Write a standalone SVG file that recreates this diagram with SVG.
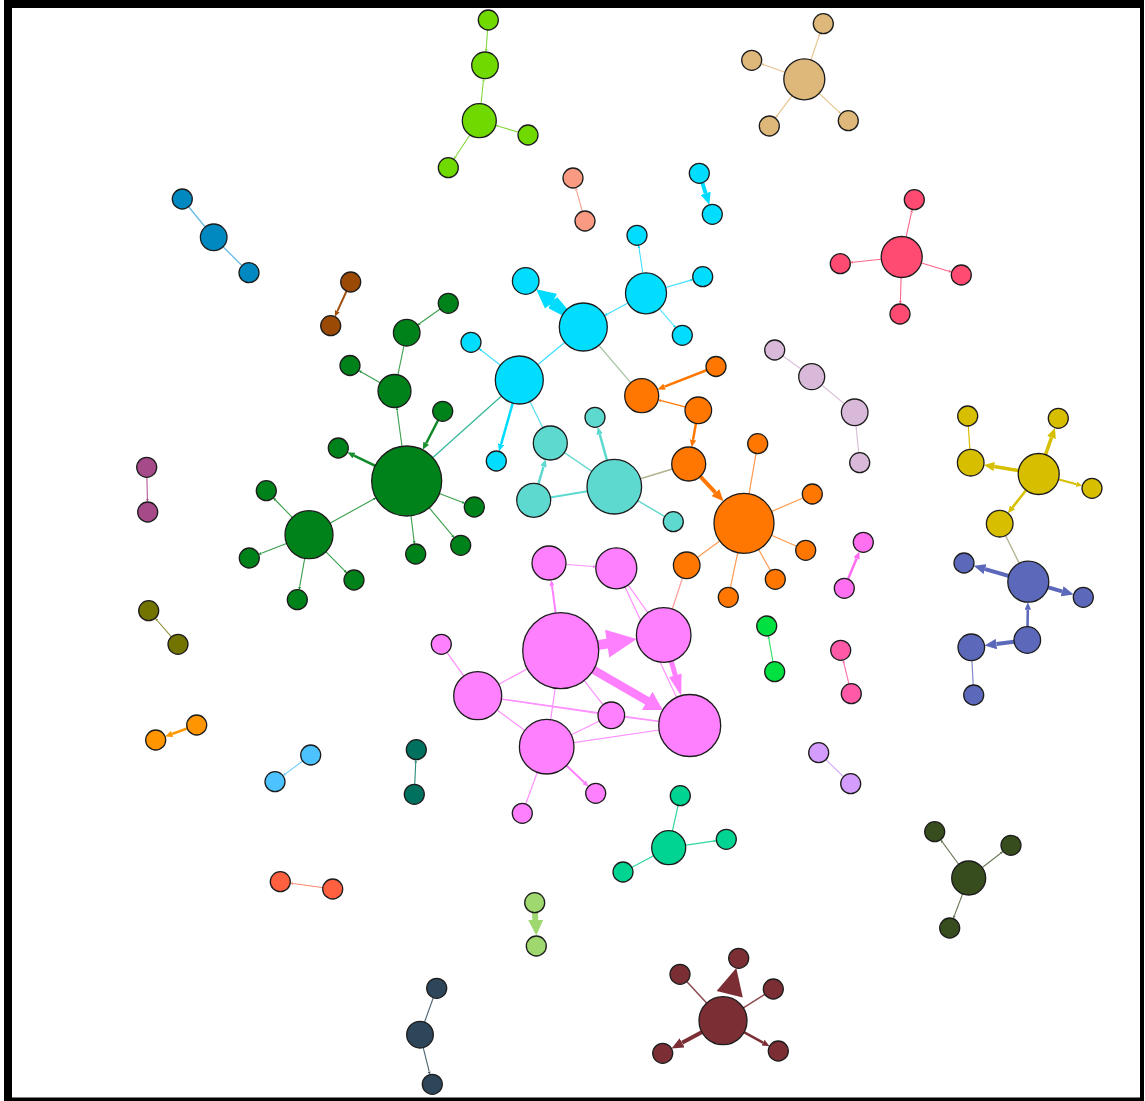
<svg xmlns="http://www.w3.org/2000/svg" width="1145" height="1101" viewBox="0 0 1145 1101">
<style>
#nodes circle{stroke:#1c1c1c;stroke-width:1.3}
#connectors line,#connectors polyline{fill:none}
</style>
<defs>
<marker id="mBrown" viewBox="0 0 10 10" refX="0" refY="5" markerWidth="3" markerHeight="2.6" orient="auto" preserveAspectRatio="none"><path d="M0,0L10,5L0,10z" fill="#a34f0c"/></marker>
<marker id="mLGreen" viewBox="0 0 10 10" refX="0" refY="5" markerWidth="3" markerHeight="2.6" orient="auto" preserveAspectRatio="none"><path d="M0,0L10,5L0,10z" fill="#84d83a"/></marker>
<marker id="mSalmon" viewBox="0 0 10 10" refX="0" refY="5" markerWidth="3" markerHeight="2.6" orient="auto" preserveAspectRatio="none"><path d="M0,0L10,5L0,10z" fill="#f7a595"/></marker>
<marker id="mCyan" viewBox="0 0 10 10" refX="0" refY="5" markerWidth="3" markerHeight="2.6" orient="auto" preserveAspectRatio="none"><path d="M0,0L10,5L0,10z" fill="#00dcff"/></marker>
<marker id="mTeal" viewBox="0 0 10 10" refX="0" refY="5" markerWidth="3" markerHeight="2.6" orient="auto" preserveAspectRatio="none"><path d="M0,0L10,5L0,10z" fill="#5ed9cf"/></marker>
<marker id="mGreen" viewBox="0 0 10 10" refX="0" refY="5" markerWidth="3" markerHeight="2.6" orient="auto" preserveAspectRatio="none"><path d="M0,0L10,5L0,10z" fill="#1a8f30"/></marker>
<marker id="mMag" viewBox="0 0 10 10" refX="0" refY="5" markerWidth="3" markerHeight="2.6" orient="auto" preserveAspectRatio="none"><path d="M0,0L10,5L0,10z" fill="#b45a9a"/></marker>
<marker id="mOlive" viewBox="0 0 10 10" refX="0" refY="5" markerWidth="3" markerHeight="2.6" orient="auto" preserveAspectRatio="none"><path d="M0,0L10,5L0,10z" fill="#8a8a30"/></marker>
<marker id="mOrJ" viewBox="0 0 10 10" refX="0" refY="5" markerWidth="3" markerHeight="2.6" orient="auto" preserveAspectRatio="none"><path d="M0,0L10,5L0,10z" fill="#ff9a00"/></marker>
<marker id="mLBlue" viewBox="0 0 10 10" refX="0" refY="5" markerWidth="3" markerHeight="2.6" orient="auto" preserveAspectRatio="none"><path d="M0,0L10,5L0,10z" fill="#6ccfff"/></marker>
<marker id="mRedO" viewBox="0 0 10 10" refX="0" refY="5" markerWidth="3" markerHeight="2.6" orient="auto" preserveAspectRatio="none"><path d="M0,0L10,5L0,10z" fill="#ff8870"/></marker>
<marker id="mDTeal" viewBox="0 0 10 10" refX="0" refY="5" markerWidth="3" markerHeight="2.6" orient="auto" preserveAspectRatio="none"><path d="M0,0L10,5L0,10z" fill="#2a8a7a"/></marker>
<marker id="mSlate" viewBox="0 0 10 10" refX="0" refY="5" markerWidth="3" markerHeight="2.6" orient="auto" preserveAspectRatio="none"><path d="M0,0L10,5L0,10z" fill="#4a6070"/></marker>
<marker id="mSea" viewBox="0 0 10 10" refX="0" refY="5" markerWidth="3" markerHeight="2.6" orient="auto" preserveAspectRatio="none"><path d="M0,0L10,5L0,10z" fill="#2ed89c"/></marker>
<marker id="mMaroon" viewBox="0 0 10 10" refX="0" refY="5" markerWidth="3" markerHeight="2.6" orient="auto" preserveAspectRatio="none"><path d="M0,0L10,5L0,10z" fill="#7b2f35"/></marker>
<marker id="mDOlive" viewBox="0 0 10 10" refX="0" refY="5" markerWidth="3" markerHeight="2.6" orient="auto" preserveAspectRatio="none"><path d="M0,0L10,5L0,10z" fill="#6a7a58"/></marker>
<marker id="mTan" viewBox="0 0 10 10" refX="0" refY="5" markerWidth="3" markerHeight="2.6" orient="auto" preserveAspectRatio="none"><path d="M0,0L10,5L0,10z" fill="#e6c28c"/></marker>
<marker id="mRed" viewBox="0 0 10 10" refX="0" refY="5" markerWidth="3" markerHeight="2.6" orient="auto" preserveAspectRatio="none"><path d="M0,0L10,5L0,10z" fill="#ff6488"/></marker>
<marker id="mOrange" viewBox="0 0 10 10" refX="0" refY="5" markerWidth="3" markerHeight="2.6" orient="auto" preserveAspectRatio="none"><path d="M0,0L10,5L0,10z" fill="#ff7700"/></marker>
<marker id="mPink" viewBox="0 0 10 10" refX="0" refY="5" markerWidth="3" markerHeight="2.6" orient="auto" preserveAspectRatio="none"><path d="M0,0L10,5L0,10z" fill="#ff80ff"/></marker>
<marker id="mPink2" viewBox="0 0 10 10" refX="0" refY="5" markerWidth="3" markerHeight="2.6" orient="auto" preserveAspectRatio="none"><path d="M0,0L10,5L0,10z" fill="#ff6ef0"/></marker>
<marker id="mHot" viewBox="0 0 10 10" refX="0" refY="5" markerWidth="3" markerHeight="2.6" orient="auto" preserveAspectRatio="none"><path d="M0,0L10,5L0,10z" fill="#ff6cb0"/></marker>
<marker id="mBGreen" viewBox="0 0 10 10" refX="0" refY="5" markerWidth="3" markerHeight="2.6" orient="auto" preserveAspectRatio="none"><path d="M0,0L10,5L0,10z" fill="#2ee066"/></marker>
<marker id="mYellow" viewBox="0 0 10 10" refX="0" refY="5" markerWidth="3" markerHeight="2.6" orient="auto" preserveAspectRatio="none"><path d="M0,0L10,5L0,10z" fill="#d6bf00"/></marker>
<marker id="mBlue" viewBox="0 0 10 10" refX="0" refY="5" markerWidth="3" markerHeight="2.6" orient="auto" preserveAspectRatio="none"><path d="M0,0L10,5L0,10z" fill="#5c68ba"/></marker>
</defs>
<rect x="0" y="0" width="1145" height="1101" fill="#fff"/>
<path d="M4,0H1144V1101H4Z M12,8V1097.5H1140V8Z" fill="#000" fill-rule="evenodd"/>
<g id="connectors">
 <g stroke="#5ab6e0" stroke-width="1.2">
  <line x1="182.3" y1="199" x2="213.7" y2="237.3"/>
  <line x1="213.7" y1="237.3" x2="249" y2="272.7"/>
 </g>
 <line x1="350.7" y1="282" x2="337.4" y2="311.2" stroke="#a34f0c" stroke-width="2" marker-end="url(#mBrown)"/>
 <g stroke="#84d83a" stroke-width="1.1" marker-end="url(#mLGreen)">
  <line x1="488.3" y1="20" x2="486.2" y2="49"/>
  <line x1="479.3" y1="120.7" x2="483.3" y2="81.5"/>
  <line x1="528" y1="135" x2="498.5" y2="126.3"/>
  <line x1="479.3" y1="120.7" x2="455.5" y2="156.8"/>
 </g>
 <line x1="585" y1="221" x2="576.5" y2="190.5" stroke="#f7a595" stroke-width="1.1" marker-end="url(#mSalmon)"/>
 <line x1="699.3" y1="173.3" x2="705.7" y2="193.3" stroke="#00dcff" stroke-width="4" marker-end="url(#mCyan)"/>
 <g stroke="#3fdfff" stroke-width="1.1" marker-end="url(#mCyan)">
  <line x1="646" y1="293.3" x2="639" y2="248.1"/>
  <line x1="646" y1="293.3" x2="690.2" y2="280.4"/>
  <line x1="646" y1="293.3" x2="673.8" y2="325.5"/>
  <line x1="646" y1="293.3" x2="607.1" y2="314.2"/>
  <line x1="519.3" y1="380" x2="481.2" y2="350.3"/>
 </g>
 <line x1="583.3" y1="327" x2="519.3" y2="380" stroke="#3fdfff" stroke-width="1.3"/>
 <line x1="519.3" y1="380" x2="501.1" y2="444.2" stroke="#00dcff" stroke-width="2.5" marker-end="url(#mCyan)"/>
 <line x1="583.3" y1="327" x2="641.7" y2="395.7" stroke="#a9c6a6" stroke-width="1.3"/>
 <line x1="519.3" y1="380" x2="406.7" y2="481" stroke="#36b89a" stroke-width="1.3"/>
 <line x1="519.3" y1="380" x2="550.3" y2="443" stroke="#5fe0ee" stroke-width="1.3"/>
 <polygon points="536.1,289.3 556.9,293.7 554.0,299.8 557.3,297.2 569.5,311.6 565.1,317.0 548.5,308.2 550.2,304.4 545.0,308.6" fill="#00dcff"/>
 <g stroke="#5ed9cf">
  <line x1="614.3" y1="486.7" x2="599.7" y2="434.2" stroke-width="2.5" marker-end="url(#mTeal)"/>
  <line x1="533.7" y1="500.3" x2="543.5" y2="466.5" stroke-width="2.5" marker-end="url(#mTeal)"/>
  <line x1="614.3" y1="486.7" x2="533.7" y2="500.3" stroke-width="2"/>
  <line x1="614.3" y1="486.7" x2="550.3" y2="443" stroke-width="1.4"/>
  <line x1="614.3" y1="486.7" x2="673.3" y2="521.7" stroke-width="1.4"/>
 </g>
 <line x1="614.3" y1="486.7" x2="688.7" y2="464" stroke="#b3b38e" stroke-width="1.5"/>
 <g stroke="#3a9e4a" stroke-width="1.1" marker-end="url(#mGreen)">
  <line x1="448.3" y1="303.3" x2="420" y2="323.3"/>
  <line x1="394.5" y1="391" x2="361.3" y2="372"/>
  <line x1="406.7" y1="481" x2="397.1" y2="410.3"/>
  <line x1="406.7" y1="481" x2="462.2" y2="502.3"/>
  <line x1="406.7" y1="481" x2="452.3" y2="535.4"/>
  <line x1="406.7" y1="481" x2="414.1" y2="541.1"/>
  <line x1="309" y1="534.7" x2="373.4" y2="499.3"/>
  <line x1="309" y1="534.7" x2="275.4" y2="500"/>
  <line x1="309" y1="534.7" x2="261.4" y2="553.3"/>
  <line x1="309" y1="534.7" x2="299.6" y2="586.9"/>
  <line x1="309" y1="534.7" x2="344.8" y2="570.8"/>
 </g>
 <line x1="406.7" y1="332.7" x2="394.5" y2="391" stroke="#3a9e4a" stroke-width="1.1"/>
 <g stroke="#10892a" stroke-width="2.5" marker-end="url(#mGreen)">
  <line x1="442.7" y1="411.3" x2="426.2" y2="443.2"/>
  <line x1="406.7" y1="481" x2="354.1" y2="455.6"/>
 </g>
 <line x1="146.7" y1="467.3" x2="147.4" y2="499" stroke="#b45a9a" stroke-width="1.1" marker-end="url(#mMag)"/>
 <line x1="178" y1="644.3" x2="157.2" y2="620.5" stroke="#8a8a30" stroke-width="1.1" marker-end="url(#mOlive)"/>
 <line x1="196.7" y1="725" x2="172.1" y2="734" stroke="#ff9a00" stroke-width="2.5" marker-end="url(#mOrJ)"/>
 <line x1="310.7" y1="755" x2="285.4" y2="773.9" stroke="#6ccfff" stroke-width="1.1" marker-end="url(#mLBlue)"/>
 <line x1="332.7" y1="889" x2="293.2" y2="883.5" stroke="#ff8870" stroke-width="1.1" marker-end="url(#mRedO)"/>
 <line x1="414.3" y1="794.3" x2="415.7" y2="762.7" stroke="#2a8a7a" stroke-width="1.1" marker-end="url(#mDTeal)"/>
 <g stroke="#4a6070" stroke-width="1.1">
  <line x1="436.7" y1="988.3" x2="420" y2="1034.7"/>
  <line x1="420" y1="1034.7" x2="429.2" y2="1071.7" marker-end="url(#mSlate)"/>
 </g>
 <polygon points="532.0,911 538.0,911 538.2,920 543.2,920 536.3,935.5 528.2,920 532.3,920" fill="#9fd870"/>
 <g stroke="#2ed89c" stroke-width="1.2">
  <line x1="668.7" y1="847.7" x2="680.3" y2="795.7"/>
  <line x1="668.7" y1="847.7" x2="713.4" y2="841.2" marker-end="url(#mSea)"/>
  <line x1="668.7" y1="847.7" x2="623" y2="872"/>
 </g>
 <g stroke="#8c4a4f" stroke-width="1.5">
  <line x1="723" y1="1020.7" x2="680" y2="974.3"/>
  <line x1="723" y1="1020.7" x2="773.3" y2="989"/>
 </g>
 <line x1="723" y1="1020.7" x2="682.1" y2="1042.8" stroke="#7b2f35" stroke-width="4" marker-end="url(#mMaroon)"/>
 <line x1="723" y1="1020.7" x2="763" y2="1042.6" stroke="#7b2f35" stroke-width="2.5" marker-end="url(#mMaroon)"/>
 <polygon points="736.3,968 742.8,997.5 716.6,990.9" fill="#7b2f35"/>
 <g stroke="#6a7a58" stroke-width="1.1" marker-end="url(#mDOlive)">
  <line x1="968.7" y1="878" x2="942.4" y2="842.2"/>
  <line x1="968.7" y1="878" x2="1000.7" y2="853.2"/>
  <line x1="968.7" y1="878" x2="954.3" y2="915.8"/>
 </g>
 <line x1="818.7" y1="752.7" x2="850.7" y2="783.7" stroke="#d8b0ff" stroke-width="1.2"/>
 <g stroke="#e6c28c" stroke-width="1.1" marker-end="url(#mTan)">
  <line x1="804.3" y1="79.3" x2="819.1" y2="36"/>
  <line x1="804.3" y1="79.3" x2="763.9" y2="64.7"/>
  <line x1="804.3" y1="79.3" x2="777.1" y2="115.6"/>
  <line x1="804.3" y1="79.3" x2="838.8" y2="111.8"/>
 </g>
 <g stroke="#ff6488" stroke-width="1.1" marker-end="url(#mRed)">
  <line x1="901.7" y1="257" x2="911.5" y2="212.4"/>
  <line x1="901.7" y1="257" x2="853.2" y2="262.3"/>
  <line x1="901.7" y1="257" x2="948.9" y2="271.2"/>
  <line x1="901.7" y1="257" x2="900.4" y2="301"/>
 </g>
 <polyline points="774.7,350 811.7,376.7 854.7,412.3 859.7,462.7" stroke="#dcc4dc" stroke-width="1.3"/>
 <g stroke="#ff7700" marker-end="url(#mOrange)">
  <line x1="716" y1="366.5" x2="664.5" y2="386.7" stroke-width="2.5"/>
  <line x1="698.3" y1="410.3" x2="661.1" y2="400.7" stroke-width="1.2"/>
  <line x1="698.3" y1="410.3" x2="693" y2="439.9" stroke-width="2.5"/>
  <line x1="688.7" y1="464" x2="715.4" y2="492.6" stroke-width="4"/>
 </g>
 <g stroke="#ff9a50" stroke-width="1.2">
  <line x1="744" y1="523.3" x2="757.7" y2="443.7"/>
  <line x1="744" y1="523.3" x2="812.3" y2="494"/>
  <line x1="744" y1="523.3" x2="805.7" y2="550.3"/>
  <line x1="744" y1="523.3" x2="775.3" y2="579.3"/>
  <line x1="744" y1="523.3" x2="728.3" y2="597.3"/>
  <line x1="744" y1="523.3" x2="686.7" y2="565.3"/>
 </g>
 <line x1="686.7" y1="565.3" x2="663.7" y2="635" stroke="#ff9a9a" stroke-width="1.2"/>
 <g stroke="#ff90ff" stroke-width="1.2">
  <line x1="616.3" y1="568.3" x2="663.7" y2="635"/>
  <line x1="616.3" y1="568.3" x2="689.7" y2="725.5"/>
  <line x1="560.7" y1="650.7" x2="477.7" y2="695.7"/>
  <line x1="560.7" y1="650.7" x2="611.3" y2="715.3"/>
  <line x1="560.7" y1="650.7" x2="546.7" y2="746.7"/>
  <line x1="477.7" y1="695.7" x2="441.3" y2="644.3"/>
  <line x1="477.7" y1="695.7" x2="689.7" y2="725.5"/>
  <line x1="477.7" y1="695.7" x2="611.3" y2="715.3"/>
  <line x1="477.7" y1="695.7" x2="546.7" y2="746.7"/>
  <line x1="546.7" y1="746.7" x2="611.3" y2="715.3"/>
  <line x1="546.7" y1="746.7" x2="689.7" y2="725.5"/>
  <line x1="611.3" y1="715.3" x2="689.7" y2="725.5"/>
  <line x1="546.7" y1="746.7" x2="522.3" y2="813.3"/>
  <line x1="549" y1="563" x2="592.9" y2="566.5" marker-end="url(#mPink)"/>
 </g>
 <g stroke="#ff80ff" stroke-width="2" marker-end="url(#mPink)">
  <line x1="560.7" y1="650.7" x2="552" y2="585.8"/>
  <line x1="546.7" y1="746.7" x2="584.1" y2="782.3"/>
 </g>
 <g fill="#ff80ff">
  <polygon points="589.61,641.24 606.41,638.68 605.05,629.78 636.72,639.11 609.27,657.46 607.91,648.56 591.11,651.12"/>
  <polygon points="593.09,664.64 649.31,697.27 652.47,691.82 662.77,709.94 641.93,709.98 645.09,704.53 588.87,671.9"/>
  <polygon points="673.0,658.34 677.69,674.67 681.54,673.57 681.23,696.02 669.04,677.15 672.89,676.05 668.2,659.72"/>
 </g>
 <line x1="844.3" y1="588.3" x2="856.6" y2="558.5" stroke="#ff6ef0" stroke-width="2.5" marker-end="url(#mPink2)"/>
 <line x1="851.3" y1="693.7" x2="843.8" y2="662.9" stroke="#ff6cb0" stroke-width="1.1" marker-end="url(#mHot)"/>
 <line x1="774.7" y1="671.7" x2="768.9" y2="638.8" stroke="#2ee066" stroke-width="1.1" marker-end="url(#mBGreen)"/>
 <line x1="967.7" y1="416" x2="970.7" y2="462.7" stroke="#d6bf00" stroke-width="1.2"/>
 <g stroke="#d6bf00" marker-end="url(#mYellow)">
  <line x1="1038.7" y1="474" x2="994.2" y2="466.6" stroke-width="3.5"/>
  <line x1="1038.7" y1="474" x2="1051.5" y2="437.6" stroke-width="3.5"/>
  <line x1="1038.7" y1="474" x2="1076.5" y2="484.2" stroke-width="2"/>
  <line x1="1038.7" y1="474" x2="1012.5" y2="507.4" stroke-width="2.5"/>
 </g>
 <line x1="999.7" y1="523.7" x2="1028.3" y2="581.7" stroke="#b2b08e" stroke-width="1.3"/>
 <g stroke="#5c68ba" marker-end="url(#mBlue)">
  <line x1="1028.3" y1="581.7" x2="985.1" y2="569.1" stroke-width="4"/>
  <line x1="1028.3" y1="581.7" x2="1062.1" y2="591.3" stroke-width="4"/>
  <line x1="1027.3" y1="640" x2="1027.8" y2="609.7" stroke-width="2.5"/>
  <line x1="1027.3" y1="640" x2="996.4" y2="644" stroke-width="4"/>
 </g>
 <line x1="971.3" y1="647.3" x2="973.7" y2="695" stroke="#7f89c8" stroke-width="1.2"/>
</g>
<g id="nodes">
 <g id="a1" fill="#0088c0"><circle cx="182.3" cy="199" r="10"/></g>
 <g id="a2" fill="#0088c0"><circle cx="213.7" cy="237.3" r="13.3"/></g>
 <g id="a3" fill="#0088c0"><circle cx="249" cy="272.7" r="10"/></g>
 <g id="b1" fill="#9a4a05"><circle cx="350.7" cy="282" r="10"/></g>
 <g id="b2" fill="#9a4a05"><circle cx="330.7" cy="325.7" r="10"/></g>
 <g id="c1" fill="#6fd900"><circle cx="488.3" cy="20" r="10"/></g>
 <g id="c2" fill="#6fd900"><circle cx="485" cy="65.3" r="13.3"/></g>
 <g id="c3" fill="#6fd900"><circle cx="479.3" cy="120.7" r="17"/></g>
 <g id="c4" fill="#6fd900"><circle cx="528" cy="135" r="10"/></g>
 <g id="c5" fill="#6fd900"><circle cx="448.3" cy="167.7" r="10"/></g>
 <g id="d1" fill="#f99a82"><circle cx="573" cy="178" r="10"/></g>
 <g id="d2" fill="#f99a82"><circle cx="585" cy="221" r="10"/></g>
 <g id="e1" fill="#00ddff"><circle cx="699.3" cy="173.3" r="10"/></g>
 <g id="e2" fill="#00ddff"><circle cx="712.3" cy="214.3" r="10"/></g>
 <g id="f1" fill="#00ddff"><circle cx="583.3" cy="327" r="24"/></g>
 <g id="f2" fill="#00ddff"><circle cx="646" cy="293.3" r="20.5"/></g>
 <g id="f3" fill="#00ddff"><circle cx="525.7" cy="281" r="13.3"/></g>
 <g id="f4" fill="#00ddff"><circle cx="637" cy="235.3" r="10"/></g>
 <g id="f5" fill="#00ddff"><circle cx="702.7" cy="276.7" r="10"/></g>
 <g id="f6" fill="#00ddff"><circle cx="682.3" cy="335.3" r="10"/></g>
 <g id="f7" fill="#00ddff"><circle cx="471" cy="342.3" r="10"/></g>
 <g id="f8" fill="#00ddff"><circle cx="519.3" cy="380" r="24"/></g>
 <g id="f9" fill="#00ddff"><circle cx="496.3" cy="461" r="10"/></g>
 <g id="t1" fill="#5ed9cf"><circle cx="614.3" cy="486.7" r="27.3"/></g>
 <g id="t2" fill="#5ed9cf"><circle cx="550.3" cy="443" r="17"/></g>
 <g id="t3" fill="#5ed9cf"><circle cx="533.7" cy="500.3" r="17"/></g>
 <g id="t4" fill="#5ed9cf"><circle cx="595" cy="417.3" r="10"/></g>
 <g id="t5" fill="#5ed9cf"><circle cx="673.3" cy="521.7" r="10"/></g>
 <g id="g1" fill="#00821a"><circle cx="406.7" cy="481" r="35"/></g>
 <g id="g2" fill="#00821a"><circle cx="309" cy="534.7" r="24"/></g>
 <g id="g3" fill="#00821a"><circle cx="394.5" cy="391" r="16.5"/></g>
 <g id="g4" fill="#00821a"><circle cx="406.7" cy="332.7" r="13.3"/></g>
 <g id="g5" fill="#00821a"><circle cx="448.3" cy="303.3" r="10"/></g>
 <g id="g6" fill="#00821a"><circle cx="350" cy="365.5" r="10"/></g>
 <g id="g7" fill="#00821a"><circle cx="442.7" cy="411.3" r="10"/></g>
 <g id="g8" fill="#00821a"><circle cx="338.3" cy="448" r="10"/></g>
 <g id="g9" fill="#00821a"><circle cx="474.3" cy="507" r="10"/></g>
 <g id="g10" fill="#00821a"><circle cx="460.7" cy="545.3" r="10"/></g>
 <g id="g11" fill="#00821a"><circle cx="415.7" cy="554" r="10"/></g>
 <g id="g12" fill="#00821a"><circle cx="266.3" cy="490.7" r="10"/></g>
 <g id="g13" fill="#00821a"><circle cx="249.3" cy="558" r="10"/></g>
 <g id="g14" fill="#00821a"><circle cx="297.3" cy="599.7" r="10"/></g>
 <g id="g15" fill="#00821a"><circle cx="354" cy="580" r="10"/></g>
 <g id="h1" fill="#a64a8a"><circle cx="146.7" cy="467.3" r="10"/></g>
 <g id="h2" fill="#a64a8a"><circle cx="147.7" cy="512" r="10"/></g>
 <g id="i1" fill="#737300"><circle cx="148.7" cy="610.7" r="10"/></g>
 <g id="i2" fill="#737300"><circle cx="178" cy="644.3" r="10"/></g>
 <g id="j1" fill="#ff9500"><circle cx="196.7" cy="725" r="10"/></g>
 <g id="j2" fill="#ff9500"><circle cx="155.7" cy="740" r="10"/></g>
 <g id="k1" fill="#4cc3ff"><circle cx="310.7" cy="755" r="10"/></g>
 <g id="k2" fill="#4cc3ff"><circle cx="275" cy="781.7" r="10"/></g>
 <g id="l1" fill="#ff6040"><circle cx="280.3" cy="881.7" r="10"/></g>
 <g id="l2" fill="#ff6040"><circle cx="332.7" cy="889" r="10"/></g>
 <g id="m1" fill="#00705f"><circle cx="416.3" cy="749.7" r="10"/></g>
 <g id="m2" fill="#00705f"><circle cx="414.3" cy="794.3" r="10"/></g>
 <g id="n1" fill="#2d4659"><circle cx="436.7" cy="988.3" r="10"/></g>
 <g id="n2" fill="#2d4659"><circle cx="420" cy="1034.7" r="13.3"/></g>
 <g id="n3" fill="#2d4659"><circle cx="432.3" cy="1084.3" r="10"/></g>
 <g id="q1" fill="#9ed86e"><circle cx="534.7" cy="902.7" r="10"/></g>
 <g id="q2" fill="#9ed86e"><circle cx="536.3" cy="946" r="10"/></g>
 <g id="r1" fill="#00d493"><circle cx="668.7" cy="847.7" r="17"/></g>
 <g id="r2" fill="#00d493"><circle cx="680.3" cy="795.7" r="10"/></g>
 <g id="r3" fill="#00d493"><circle cx="726.3" cy="839.3" r="10"/></g>
 <g id="r4" fill="#00d493"><circle cx="623" cy="872" r="10"/></g>
 <g id="s1" fill="#7b2f35"><circle cx="723" cy="1020.7" r="24"/></g>
 <g id="s2" fill="#7b2f35"><circle cx="738.7" cy="958.3" r="10"/></g>
 <g id="s3" fill="#7b2f35"><circle cx="680" cy="974.3" r="10"/></g>
 <g id="s4" fill="#7b2f35"><circle cx="662.7" cy="1053.3" r="10"/></g>
 <g id="s5" fill="#7b2f35"><circle cx="773.3" cy="989" r="10"/></g>
 <g id="s6" fill="#7b2f35"><circle cx="778.3" cy="1051" r="10"/></g>
 <g id="u1" fill="#384d1d"><circle cx="968.7" cy="878" r="17"/></g>
 <g id="u2" fill="#384d1d"><circle cx="934.7" cy="831.7" r="10"/></g>
 <g id="u3" fill="#384d1d"><circle cx="1011" cy="845.3" r="10"/></g>
 <g id="u4" fill="#384d1d"><circle cx="949.7" cy="928" r="10"/></g>
 <g id="v1" fill="#d49cfc"><circle cx="818.7" cy="752.7" r="10"/></g>
 <g id="v2" fill="#d49cfc"><circle cx="850.7" cy="783.7" r="10"/></g>
 <g id="w1" fill="#ddb87a"><circle cx="804.3" cy="79.3" r="20.5"/></g>
 <g id="w2" fill="#ddb87a"><circle cx="823.3" cy="23.7" r="10"/></g>
 <g id="w3" fill="#ddb87a"><circle cx="751.7" cy="60.3" r="10"/></g>
 <g id="w4" fill="#ddb87a"><circle cx="769.3" cy="126" r="10"/></g>
 <g id="w5" fill="#ddb87a"><circle cx="848.3" cy="120.7" r="10"/></g>
 <g id="x1" fill="#ff4a72"><circle cx="901.7" cy="257" r="20.5"/></g>
 <g id="x2" fill="#ff4a72"><circle cx="914.3" cy="199.7" r="10"/></g>
 <g id="x3" fill="#ff4a72"><circle cx="840.3" cy="263.7" r="10"/></g>
 <g id="x4" fill="#ff4a72"><circle cx="961.3" cy="275" r="10"/></g>
 <g id="x5" fill="#ff4a72"><circle cx="900" cy="314" r="10"/></g>
 <g id="y1" fill="#d9b9d9"><circle cx="774.7" cy="350" r="10"/></g>
 <g id="y2" fill="#d9b9d9"><circle cx="811.7" cy="376.7" r="13"/></g>
 <g id="y3" fill="#d9b9d9"><circle cx="854.7" cy="412.3" r="13.3"/></g>
 <g id="y4" fill="#d9b9d9"><circle cx="859.7" cy="462.7" r="10"/></g>
 <g id="o1" fill="#ff7700"><circle cx="641.7" cy="395.7" r="17"/></g>
 <g id="o2" fill="#ff7700"><circle cx="716" cy="366.5" r="10"/></g>
 <g id="o3" fill="#ff7700"><circle cx="698.3" cy="410.3" r="13.3"/></g>
 <g id="o4" fill="#ff7700"><circle cx="688.7" cy="464" r="17"/></g>
 <g id="o5" fill="#ff7700"><circle cx="744" cy="523.3" r="30"/></g>
 <g id="o6" fill="#ff7700"><circle cx="757.7" cy="443.7" r="10"/></g>
 <g id="o7" fill="#ff7700"><circle cx="812.3" cy="494" r="10"/></g>
 <g id="o8" fill="#ff7700"><circle cx="805.7" cy="550.3" r="10"/></g>
 <g id="o9" fill="#ff7700"><circle cx="775.3" cy="579.3" r="10"/></g>
 <g id="o10" fill="#ff7700"><circle cx="728.3" cy="597.3" r="10"/></g>
 <g id="o11" fill="#ff7700"><circle cx="686.7" cy="565.3" r="13.3"/></g>
 <g id="p1" fill="#ff80ff"><circle cx="560.7" cy="650.7" r="38"/></g>
 <g id="p2" fill="#ff80ff"><circle cx="549" cy="563" r="17"/></g>
 <g id="p3" fill="#ff80ff"><circle cx="663.7" cy="635" r="27.3"/></g>
 <g id="p4" fill="#ff80ff"><circle cx="616.3" cy="568.3" r="20.5"/></g>
 <g id="p5" fill="#ff80ff"><circle cx="477.7" cy="695.7" r="24"/></g>
 <g id="p6" fill="#ff80ff"><circle cx="441.3" cy="644.3" r="10"/></g>
 <g id="p7" fill="#ff80ff"><circle cx="611.3" cy="715.3" r="13.3"/></g>
 <g id="p8" fill="#ff80ff"><circle cx="689.7" cy="725.5" r="31"/></g>
 <g id="p9" fill="#ff80ff"><circle cx="546.7" cy="746.7" r="27.3"/></g>
 <g id="p10" fill="#ff80ff"><circle cx="595.7" cy="793.3" r="10"/></g>
 <g id="p11" fill="#ff80ff"><circle cx="522.3" cy="813.3" r="10"/></g>
 <g id="z1" fill="#ff70f0"><circle cx="863.3" cy="542.3" r="10"/></g>
 <g id="z2" fill="#ff70f0"><circle cx="844.3" cy="588.3" r="10"/></g>
 <g id="aa1" fill="#ff5aa8"><circle cx="840.7" cy="650.3" r="10"/></g>
 <g id="aa2" fill="#ff5aa8"><circle cx="851.3" cy="693.7" r="10"/></g>
 <g id="ab1" fill="#00e040"><circle cx="766.7" cy="626" r="10"/></g>
 <g id="ab2" fill="#00e040"><circle cx="774.7" cy="671.7" r="10"/></g>
 <g id="ya" fill="#d7bf00"><circle cx="1038.7" cy="474" r="20.5"/></g>
 <g id="yb" fill="#d7bf00"><circle cx="967.7" cy="416" r="10"/></g>
 <g id="yc" fill="#d7bf00"><circle cx="970.7" cy="462.7" r="13.3"/></g>
 <g id="yd" fill="#d7bf00"><circle cx="1058.3" cy="418.3" r="10"/></g>
 <g id="ye" fill="#d7bf00"><circle cx="1092" cy="488.3" r="10"/></g>
 <g id="yf" fill="#d7bf00"><circle cx="999.7" cy="523.7" r="13.3"/></g>
 <g id="ba1" fill="#5c68ba"><circle cx="1028.3" cy="581.7" r="20.5"/></g>
 <g id="ba2" fill="#5c68ba"><circle cx="964" cy="563" r="10"/></g>
 <g id="ba3" fill="#5c68ba"><circle cx="1083.3" cy="597.3" r="10"/></g>
 <g id="ba4" fill="#5c68ba"><circle cx="1027.3" cy="640" r="13.3"/></g>
 <g id="ba5" fill="#5c68ba"><circle cx="971.3" cy="647.3" r="13.3"/></g>
 <g id="ba6" fill="#5c68ba"><circle cx="973.7" cy="695" r="10"/></g>
</g>
</svg>
